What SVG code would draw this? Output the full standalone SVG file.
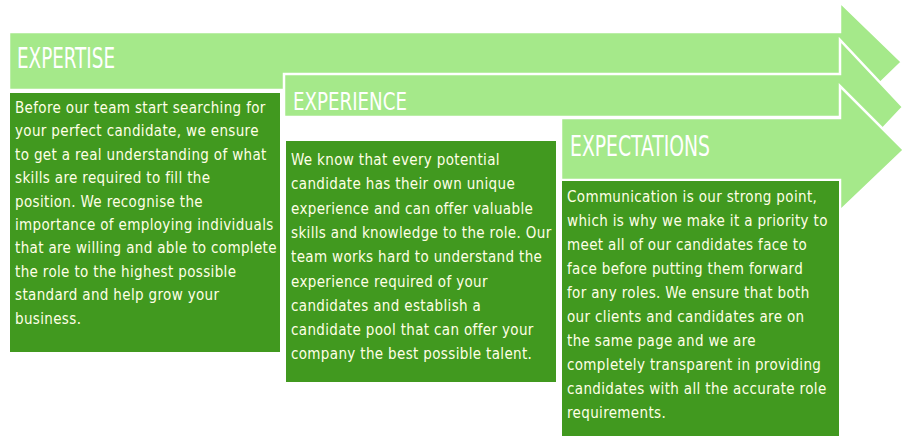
<svg xmlns="http://www.w3.org/2000/svg" width="911" height="447" viewBox="0 0 911 447">
<style>
.arr{fill:#a5e98a;stroke:#fff;stroke-width:2.5}
.box{fill:#41991f;stroke:#fff;stroke-width:2}
.t{font-family:"DejaVu Sans Condensed","Liberation Sans",sans-serif;fill:#fff;font-weight:normal}
.b{font-family:"DejaVu Sans Condensed","Liberation Sans",sans-serif;fill:#ffffe6;font-size:15px;letter-spacing:0.35px}
</style>
<rect width="911" height="447" fill="#fff"/>
<g id="expertise">
<polygon class="arr" points="9,32 840,32 840,2 902,62 840,122 840,90 9,90"/>
<text class="t" x="17" y="68" font-size="29" textLength="98" lengthAdjust="spacingAndGlyphs">EXPERTISE</text>
<rect class="box" x="9" y="92" width="272" height="261"/>
<text class="b" x="15" y="113">
<tspan x="15">Before our team start searching for</tspan>
<tspan x="15" dy="23.4">your perfect candidate, we ensure</tspan>
<tspan x="15" dy="23.4">to get a real understanding of what</tspan>
<tspan x="15" dy="23.4">skills are required to fill the</tspan>
<tspan x="15" dy="23.4">position. We recognise the</tspan>
<tspan x="15" dy="23.4">importance of employing individuals</tspan>
<tspan x="15" dy="23.4">that are willing and able to complete</tspan>
<tspan x="15" dy="23.4">the role to the highest possible</tspan>
<tspan x="15" dy="23.4">standard and help grow your</tspan>
<tspan x="15" dy="23.4">business.</tspan>
</text>
</g>
<g id="experience">
<polygon class="arr" points="284,74 840,74 840,40 903,107 840,174 840,117 284,117"/>
<text class="t" x="293" y="110" font-size="25" textLength="114" lengthAdjust="spacingAndGlyphs">EXPERIENCE</text>
<rect class="box" x="285" y="140" width="272" height="243"/>
<text class="b" x="291" y="165">
<tspan x="291">We know that every potential</tspan>
<tspan x="291" dy="24.3">candidate has their own unique</tspan>
<tspan x="291" dy="24.3">experience and can offer valuable</tspan>
<tspan x="291" dy="24.3">skills and knowledge to the role. Our</tspan>
<tspan x="291" dy="24.3">team works hard to understand the</tspan>
<tspan x="291" dy="24.3">experience required of your</tspan>
<tspan x="291" dy="24.3">candidates and establish a</tspan>
<tspan x="291" dy="24.3">candidate pool that can offer your</tspan>
<tspan x="291" dy="24.3">company the best possible talent.</tspan>
</text>
</g>
<g id="expectations">
<polygon class="arr" points="561,118 840,118 840,86 904,150 840,211 840,180 561,180"/>
<text class="t" x="570" y="156" font-size="28" textLength="140" lengthAdjust="spacingAndGlyphs">EXPECTATIONS</text>
<rect class="box" x="561" y="180" width="279" height="257"/>
<text class="b" x="567" y="202">
<tspan x="567">Communication is our strong point,</tspan>
<tspan x="567" dy="24">which is why we make it a priority to</tspan>
<tspan x="567" dy="24">meet all of our candidates face to</tspan>
<tspan x="567" dy="24">face before putting them forward</tspan>
<tspan x="567" dy="24">for any roles. We ensure that both</tspan>
<tspan x="567" dy="24">our clients and candidates are on</tspan>
<tspan x="567" dy="24">the same page and we are</tspan>
<tspan x="567" dy="24">completely transparent in providing</tspan>
<tspan x="567" dy="24">candidates with all the accurate role</tspan>
<tspan x="567" dy="24">requirements.</tspan>
</text>
</g>
<g id="connectors"/>
</svg>
